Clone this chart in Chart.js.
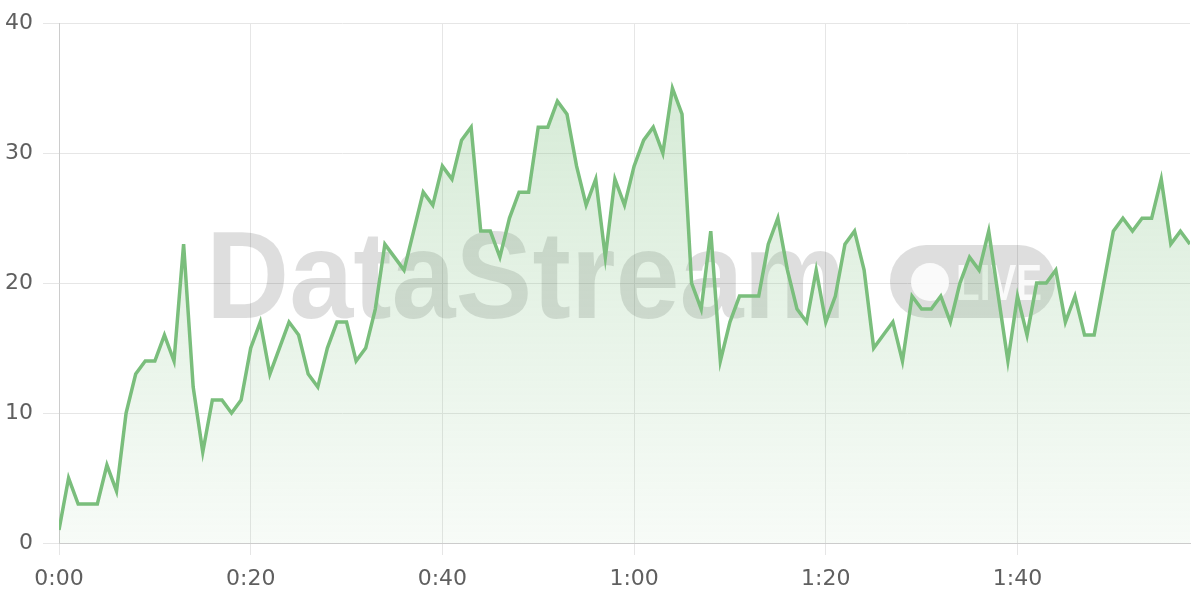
<!DOCTYPE html>
<html>
<head>
<meta charset="utf-8">
<script src="https://cdn.jsdelivr.net/npm/chart.js@4"></script>
<style>
  html, body { margin: 0; padding: 0; background: #fff; }
  #wrap { width: 1200px; height: 600px; }
</style>
</head>
<body>
<div id="wrap"><canvas id="viewers"></canvas></div>
<script>
// one reading per minute, starting at 0:00
const values = [
  1, 5, 3, 3, 3, 6, 4, 10, 13, 14,
  14, 16, 14, 23, 12, 7, 11, 11, 10, 11,
  15, 17, 13, 15, 17, 16, 13, 12, 15, 17,
  17, 14, 15, 18, 23, 22, 21, 24, 27, 26,
  29, 28, 31, 32, 24, 24, 22, 25, 27, 27,
  32, 32, 34, 33, 29, 26, 28, 22, 28, 26,
  29, 31, 32, 30, 35, 33, 20, 18, 24, 14,
  17, 19, 19, 19, 23, 25, 21, 18, 17, 21,
  17, 19, 23, 24, 21, 15, 16, 17, 14, 19,
  18, 18, 19, 17, 20, 22, 21, 24, 19, 14,
  19, 16, 20, 20, 21, 17, 19, 16, 16, 20,
  24, 25, 24, 25, 25, 28, 23, 24, 23
];
const yTicks = [0, 10, 20, 30, 40];
const xTickStep = 20; // minutes between x labels

const points = values.map((v, i) => ({ x: i, y: v }));

const lineColor = 'rgb(122, 190, 124)';
const tickFont = { family: 'DejaVu Sans', size: 22 };

// watermark behind the line
const watermark = {
  id: 'watermark',
  beforeDatasetsDraw(chart) {
    const ctx = chart.ctx;
    ctx.save();
    ctx.fillStyle = 'rgba(0,0,0,0.13)';
    ctx.font = 'bold 124px "Liberation Sans"';
    ctx.textBaseline = 'alphabetic';
    ctx.fillText('DataStream', 206, 318, 640);
    // LIVE pill
    const x = 890, y = 245, w = 165, h = 73, r = 36;
    ctx.beginPath();
    ctx.roundRect(x, y, w, h, r);
    ctx.fill();
    ctx.globalCompositeOperation = 'destination-out';
    ctx.fillStyle = 'rgba(0,0,0,0.85)';
    ctx.beginPath();
    ctx.arc(930, 282, 19, 0, Math.PI * 2);
    ctx.fill();
    ctx.font = 'bold 50px "Liberation Sans"';
    ctx.fillText('LIVE', 956, 300, 86);
    ctx.restore();
  }
};

const ctx1 = document.getElementById('viewers');

new Chart(ctx1, {
  type: 'line',
  data: {
    datasets: [{
      data: points,
      borderColor: lineColor,
      borderWidth: 3.5,
      pointRadius: 0,
      tension: 0,
      fill: 'origin',
      backgroundColor(context) {
        const area = context.chart.chartArea;
        if (!area) return 'rgba(122,190,124,0.15)';
        const g = context.chart.ctx.createLinearGradient(0, area.top, 0, area.bottom);
        g.addColorStop(0, 'rgba(122,190,124,0.34)');
        g.addColorStop(1, 'rgba(122,190,124,0.06)');
        return g;
      }
    }]
  },
  options: {
    responsive: true,
    maintainAspectRatio: false,
    animation: false,
    layout: { autoPadding: false, padding: { top: 20, right: 10, bottom: 0, left: 0 } },
    plugins: {
      legend: { display: false },
      tooltip: { enabled: false }
    },
    scales: {
      x: {
        type: 'linear',
        min: 0,
        max: values.length - 1,
        afterFit: (s) => { s.height = 57; },
        grid: { color: '#e6e6e6', lineWidth: 1, tickLength: 12 },
        border: { color: '#cccccc', width: 1 },
        ticks: {
          stepSize: xTickStep,
          includeBounds: false,
          padding: 11,
          color: '#5f5f5f',
          font: tickFont,
          maxRotation: 0,
          callback: (v) => Math.floor(v / 60) + ':' + String(v % 60).padStart(2, '0')
        }
      },
      y: {
        min: yTicks[0],
        max: yTicks[yTicks.length - 1],
        afterFit: (s) => { s.width = 59; },
        grid: { color: '#e6e6e6', lineWidth: 1, tickLength: 16 },
        border: { color: '#cccccc', width: 1 },
        ticks: {
          stepSize: 10,
          padding: 10,
          color: '#5f5f5f',
          font: tickFont
        }
      }
    }
  },
  plugins: [watermark]
});
</script>
</body>
</html>
